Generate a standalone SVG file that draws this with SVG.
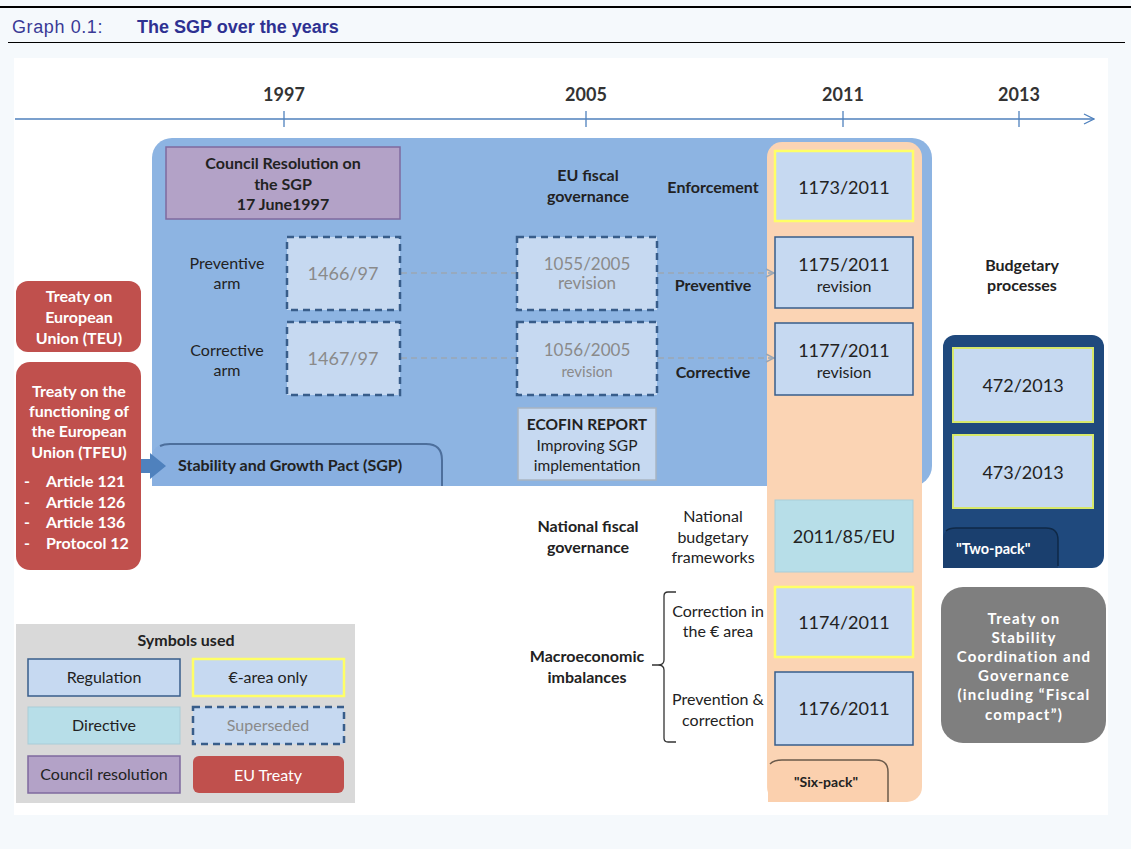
<svg xmlns="http://www.w3.org/2000/svg" width="1131" height="849" viewBox="0 0 1131 849">
<defs>
<style>
text{font-family:Lato,"Liberation Sans",sans-serif;fill:#222;}
.c{text-anchor:middle;}
.b{font-weight:bold;}
.lbl{font-size:16px;}
.yr{font-size:18px;font-weight:bold;fill:#333;}
.reg{fill:#c6d9f1;stroke:#385d8a;stroke-width:1.5;}
.eur{fill:#c6d9f1;stroke:#ffff66;stroke-width:2.5;}
.dir{fill:#b7dee8;stroke:#a9cdd8;stroke-width:1;}
.sup{fill:#c6d9f1;stroke:#385d8a;stroke-width:2.5;stroke-dasharray:7 5;}
.res{fill:#b3a2c7;stroke:#7f6a9f;stroke-width:1.5;}
.treaty{fill:#c0504d;}
.num{font-size:18px;}
.sub{font-size:16px;}
.grey{fill:#8a8a8a;}
.w{fill:#fff;font-weight:bold;}
.tr{font-size:16px;}
.ts{font-size:15px;letter-spacing:1.2px;}
.dash{stroke:#9aa6b4;stroke-width:1.5;stroke-dasharray:6 4;fill:none;}
</style>
<marker id="oa" viewBox="0 0 10 10" refX="9" refY="5" markerWidth="10" markerHeight="10" markerUnits="userSpaceOnUse" orient="auto">
<path d="M1,1 L9,5 L1,9" fill="none" stroke="#9aa6b4" stroke-width="1.5"/>
</marker>
<marker id="ta" viewBox="0 0 12 12" refX="11" refY="6" markerWidth="12" markerHeight="12" markerUnits="userSpaceOnUse" orient="auto">
<path d="M1,1 L11,6 L1,11" fill="none" stroke="#4f81bd" stroke-width="1.3"/>
</marker>
</defs>

<rect x="0" y="0" width="1131" height="849" fill="#f5f9fc"/>
<rect x="0" y="6" width="1131" height="2" fill="#000"/>
<rect x="8" y="42" width="1117" height="1" fill="#000"/>
<text x="12" y="33" style="font-family:'Liberation Sans',sans-serif;font-size:18px;letter-spacing:0.6px;fill:#3a3a96;">Graph 0.1:</text>
<text x="137" y="33" style="font-family:'Liberation Sans',sans-serif;font-size:18px;font-weight:bold;fill:#2e3192;">The SGP over the years</text>
<rect x="14" y="58" width="1094" height="757" fill="#fff"/>

<g id="timeline">
<line x1="15" y1="119" x2="1094" y2="119" stroke="#4f81bd" stroke-width="1.3" marker-end="url(#ta)"/>
<line x1="284" y1="111" x2="284" y2="127" stroke="#4f81bd" stroke-width="1.3"/>
<line x1="586" y1="111" x2="586" y2="127" stroke="#4f81bd" stroke-width="1.3"/>
<line x1="843" y1="111" x2="843" y2="127" stroke="#4f81bd" stroke-width="1.3"/>
<line x1="1019" y1="111" x2="1019" y2="127" stroke="#4f81bd" stroke-width="1.3"/>
<text class="yr c" x="284" y="101">1997</text>
<text class="yr c" x="586" y="101">2005</text>
<text class="yr c" x="843" y="101">2011</text>
<text class="yr c" x="1019" y="101">2013</text>
</g>

<g id="sgp-panel">
<rect x="152" y="138" width="780" height="348" rx="20" fill="#8db4e2"/>
<path d="M152,486 L152,458 Q152,444 168,444 L426,444 Q442,444 442,460 L442,486 Z" fill="#88afe0"/>
<path d="M160,446 Q164,444 170,444 L426,444 Q442,444 442,460 L442,486" fill="none" stroke="#4d6f9c" stroke-width="2"/>
<text class="b lbl" x="178" y="471">Stability and Growth Pact (SGP)</text>
</g>

<g id="six-pack-panel">
<rect x="767" y="142" width="155" height="660" rx="15" fill="#fbd4b4"/>
<path d="M768,802 L768,770 Q768,760 780,760 L876,760 Q888,760 888,772 L888,802 Z" fill="#fbd0ae"/>
<path d="M770,764 Q774,760 782,760 L876,760 Q888,760 888,772 L888,802" fill="none" stroke="#6b5a4a" stroke-width="1.5"/>
<text class="b c" x="826" y="787" style="font-size:14px;">"Six-pack"</text>
</g>

<g id="connectors">
<line class="dash" x1="401" y1="273" x2="516" y2="273"/>
<line class="dash" x1="658" y1="273" x2="774" y2="273" marker-end="url(#oa)"/>
<line class="dash" x1="401" y1="358" x2="516" y2="358"/>
<line class="dash" x1="658" y1="358" x2="774" y2="358" marker-end="url(#oa)"/>
<path d="M137,459 L150,459 L150,453 L166,466 L150,479 L150,473 L137,473 Z" fill="#4f81bd"/>
<path d="M676,592 L668,592 Q664,592 664,596 L664,660 Q664,665 658,665 L652,665 M658,665 Q664,665 664,670 L664,738 Q664,742 668,742 L676,742" fill="none" stroke="#333" stroke-width="1.3"/>
</g>

<g id="council-resolution">
<rect class="res" x="166" y="147" width="234" height="72"/>
<text class="b c lbl" x="283" y="169">Council Resolution on</text>
<text class="b c lbl" x="283" y="190">the SGP</text>
<text class="b c lbl" x="283" y="210">17 June1997</text>
</g>

<g id="labels">
<text class="c lbl" x="227" y="269">Preventive</text>
<text class="c lbl" x="227" y="289">arm</text>
<text class="c lbl" x="227" y="356">Corrective</text>
<text class="c lbl" x="227" y="376">arm</text>
<text class="b c lbl" x="588" y="181">EU fiscal</text>
<text class="b c lbl" x="588" y="202">governance</text>
<text class="b c lbl" x="713" y="193">Enforcement</text>
<text class="b c lbl" x="713" y="291">Preventive</text>
<text class="b c lbl" x="713" y="378">Corrective</text>
<text class="b c lbl" x="588" y="532">National fiscal</text>
<text class="b c lbl" x="588" y="553">governance</text>
<text class="c lbl" x="713" y="522">National</text>
<text class="c lbl" x="713" y="543">budgetary</text>
<text class="c lbl" x="713" y="563">frameworks</text>
<text class="b c lbl" x="587" y="662">Macroeconomic</text>
<text class="b c lbl" x="587" y="683">imbalances</text>
<text class="c lbl" x="718" y="617">Correction in</text>
<text class="c lbl" x="718" y="637">the € area</text>
<text class="c lbl" x="718" y="705">Prevention &amp;</text>
<text class="c lbl" x="718" y="726">correction</text>
<text class="b c lbl" x="1022" y="271">Budgetary</text>
<text class="b c lbl" x="1022" y="291">processes</text>
</g>

<g id="r1466">
<rect class="sup" x="287" y="237" width="113" height="73"/>
<text class="c grey" x="343" y="280" style="font-size:18px;">1466/97</text>
</g>
<g id="r1467">
<rect class="sup" x="287" y="322" width="113" height="73"/>
<text class="c grey" x="343" y="365" style="font-size:18px;">1467/97</text>
</g>
<g id="r1055">
<rect class="sup" x="517" y="237" width="140" height="73"/>
<text class="c grey" x="587" y="270" style="font-size:17px;">1055/2005</text>
<text class="c grey" x="587" y="289" style="font-size:17px;">revision</text>
</g>
<g id="r1056">
<rect class="sup" x="517" y="322" width="140" height="73"/>
<text class="c grey" x="587" y="356" style="font-size:17px;">1056/2005</text>
<text class="c grey" x="587" y="377" style="font-size:15px;">revision</text>
</g>
<g id="ecofin">
<rect x="518" y="408" width="138" height="72" fill="#c6d9f1" stroke="#a8b4c2" stroke-width="1.5"/>
<text class="b c" x="587" y="430" style="font-size:15.5px;">ECOFIN REPORT</text>
<text class="c" x="587" y="451" style="font-size:15.5px;">Improving SGP</text>
<text class="c" x="587" y="471" style="font-size:15.5px;">implementation</text>
</g>

<g id="r1173">
<rect class="eur" x="775" y="151" width="138" height="70"/>
<text class="c num" x="844" y="194">1173/2011</text>
</g>
<g id="r1175">
<rect class="reg" x="775" y="237" width="138" height="71"/>
<text class="c num" x="844" y="271">1175/2011</text>
<text class="c sub" x="844" y="292">revision</text>
</g>
<g id="r1177">
<rect class="reg" x="775" y="323" width="138" height="72"/>
<text class="c num" x="844" y="357">1177/2011</text>
<text class="c sub" x="844" y="378">revision</text>
</g>
<g id="d2011">
<rect class="dir" x="775" y="500" width="138" height="72"/>
<text class="c num" x="844" y="543">2011/85/EU</text>
</g>
<g id="r1174">
<rect class="eur" x="775" y="587" width="138" height="70"/>
<text class="c num" x="844" y="629">1174/2011</text>
</g>
<g id="r1176">
<rect class="reg" x="775" y="672" width="138" height="73"/>
<text class="c num" x="844" y="715">1176/2011</text>
</g>

<g id="two-pack">
<rect x="943" y="335" width="161" height="233" rx="12" fill="#1f497d"/>
<path d="M943,568 L943,540 Q943,528 955,528 L1046,528 Q1058,528 1058,540 L1058,568 Z" fill="#1a3f6e"/>
<path d="M946,531 Q949,528 956,528 L1046,528 Q1058,528 1058,540 L1058,566" fill="none" stroke="#0f2947" stroke-width="1.5"/>
<rect x="953" y="348" width="140" height="74" fill="#c6d9f1" stroke="#d7e86a" stroke-width="2"/>
<text class="c num" x="1023" y="392">472/2013</text>
<rect x="953" y="435" width="140" height="73" fill="#c6d9f1" stroke="#d7e86a" stroke-width="2"/>
<text class="c num" x="1023" y="479">473/2013</text>
<text class="w" x="956" y="554" style="font-size:14.5px;">"Two-pack"</text>
</g>

<g id="tscg">
<rect x="941" y="587" width="165" height="156" rx="22" fill="#7f7f7f"/>
<text class="w c ts" x="1024" y="624">Treaty on</text>
<text class="w c ts" x="1024" y="643">Stability</text>
<text class="w c ts" x="1024" y="662">Coordination and</text>
<text class="w c ts" x="1024" y="681">Governance</text>
<text class="w c ts" x="1024" y="700">(including “Fiscal</text>
<text class="w c ts" x="1024" y="720">compact”)</text>
</g>

<g id="teu">
<rect class="treaty" x="16" y="281" width="125" height="71" rx="12"/>
<text class="w c tr" x="79" y="302">Treaty on</text>
<text class="w c tr" x="79" y="323">European</text>
<text class="w c tr" x="79" y="344">Union (TEU)</text>
</g>
<g id="tfeu">
<rect class="treaty" x="16" y="362" width="125" height="208" rx="14"/>
<text class="w c tr" x="79" y="397">Treaty on the</text>
<text class="w c tr" x="79" y="417">functioning of</text>
<text class="w c tr" x="79" y="437">the European</text>
<text class="w c tr" x="79" y="458">Union (TFEU)</text>
<text class="w tr" x="24" y="487">-</text>
<text class="w tr" x="46" y="487">Article 121</text>
<text class="w tr" x="24" y="508">-</text>
<text class="w tr" x="46" y="508">Article 126</text>
<text class="w tr" x="24" y="528">-</text>
<text class="w tr" x="46" y="528">Article 136</text>
<text class="w tr" x="24" y="549">-</text>
<text class="w tr" x="46" y="549">Protocol 12</text>
</g>

<g id="legend">
<rect x="16" y="624" width="339" height="179" fill="#d9d9d9"/>
<text class="b c lbl" x="186" y="646">Symbols used</text>
<rect class="reg" x="28" y="659" width="152" height="37"/>
<text class="c lbl" x="104" y="683">Regulation</text>
<rect class="eur" x="193" y="659" width="151" height="37"/>
<text class="c lbl" x="268" y="683">€-area only</text>
<rect class="dir" x="28" y="707" width="152" height="37"/>
<text class="c lbl" x="104" y="731">Directive</text>
<rect class="sup" x="193" y="707" width="151" height="37"/>
<text class="c lbl grey" x="268" y="731">Superseded</text>
<rect class="res" x="28" y="756" width="152" height="37"/>
<text class="c lbl" x="104" y="780">Council resolution</text>
<rect class="treaty" x="193" y="756" width="151" height="37" rx="6"/>
<text class="c" x="268" y="781" style="font-size:16px;fill:#fff;">EU Treaty</text>
</g>
</svg>
